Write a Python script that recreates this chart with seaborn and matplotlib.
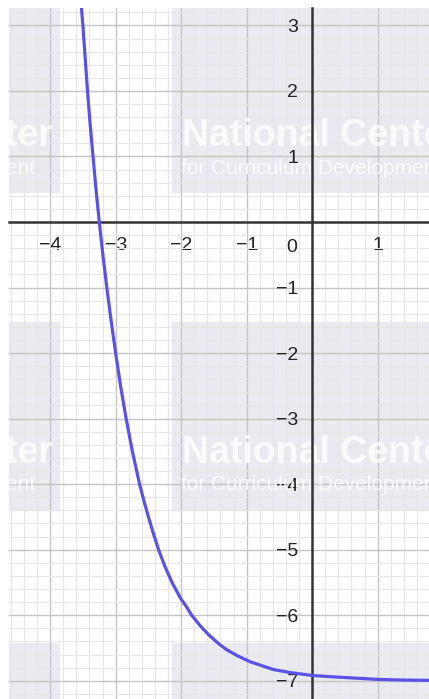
import matplotlib
matplotlib.use('Agg')
import matplotlib.pyplot as plt
import seaborn as sns
from matplotlib.ticker import MultipleLocator
from matplotlib.patches import Rectangle

# values (x, y)
curve_x = [-3.525, -3.50, -3.465, -3.43, -3.39, -3.345, -3.30, -3.25, -3.195, -3.135,
           -3.07, -3.00, -2.925, -2.84, -2.745, -2.635, -2.57, -2.50, -2.425, -2.345,
           -2.25, -2.14, -2.005, -1.92, -1.84, -1.72, -1.58, -1.41, -1.30, -1.14,
           -0.95, -0.80, -0.59, -0.34, 0.00, 0.30, 0.65, 1.00, 1.40, 1.80]
curve_y = [3.30, 3.00, 2.50, 2.00, 1.50, 1.00, 0.50, 0.00, -0.50, -1.00,
           -1.50, -2.00, -2.50, -3.00, -3.50, -4.00, -4.25, -4.50, -4.75, -5.00,
           -5.25, -5.50, -5.75, -5.87, -6.00, -6.15, -6.30, -6.45, -6.53, -6.62,
           -6.71, -6.76, -6.83, -6.875, -6.92, -6.94, -6.96, -6.98, -6.99, -6.995]

x_ticks = [-4, -3, -2, -1, 1]
x_labels = ['\u22124', '\u22123', '\u22122', '\u22121', '1']
y_ticks = [3, 2, 1, -1, -2, -3, -4, -5, -6, -7]
y_labels = ['3', '2', '1', '\u22121', '\u22122', '\u22123', '\u22124', '\u22125', '\u22126', '\u22127']

x_range = (-4.628, 1.783)
y_range = (-7.279, 3.266)

sns.set_theme(style='white')
plt.rcParams['font.family'] = ['Liberation Sans', 'DejaVu Sans']

W, H = 429, 699
fig = plt.figure(figsize=(W / 100, H / 100), dpi=100)
ax = fig.add_axes([9 / W, 0, 420 / W, 691 / H])
ax.set_xlim(*x_range)
ax.set_ylim(*y_range)
ax.set_axisbelow(True)

# faint watermark tiles (pixel boxes, y from top)
def px_box(x0, y0, x1, y1):
    return Rectangle((x0 / W, 1 - y1 / H), (x1 - x0) / W, (y1 - y0) / H,
                     transform=fig.transFigure, facecolor='#d8dbe4', edgecolor='none',
                     alpha=0.55, zorder=0.2)

for top in [5, 322, 643]:
    for left in [-234, 172]:
        ax.add_patch(px_box(left, top, left + 294, top + 188))
        ax.text((left + 10) / W, 1 - (top + 131) / H, 'National Center',
                transform=fig.transFigure, fontsize=27, fontweight='bold',
                color='white', alpha=0.8, ha='left', va='center', zorder=3)
        ax.text((left + 9) / W, 1 - (top + 163) / H, 'for Curriculum Development',
                transform=fig.transFigure, fontsize=15, color='white', alpha=0.8,
                ha='left', va='center', zorder=3)

# grid
ax.xaxis.set_major_locator(MultipleLocator(1))
ax.yaxis.set_major_locator(MultipleLocator(1))
ax.xaxis.set_minor_locator(MultipleLocator(0.2))
ax.yaxis.set_minor_locator(MultipleLocator(0.2))
ax.grid(which='major', color='#c4c4c4', linewidth=1.0)
ax.grid(which='minor', color='#e6e6e6', linewidth=0.8)

sns.lineplot(x=curve_x, y=curve_y, color='#5a52e6', linewidth=2.3, ax=ax,
             sort=False, estimator=None, zorder=4)

# axes through origin
for side in ['top', 'right']:
    ax.spines[side].set_visible(False)
ax.spines['left'].set_position('zero')
ax.spines['bottom'].set_position('zero')
for side in ['left', 'bottom']:
    ax.spines[side].set_color('#333333')
    ax.spines[side].set_linewidth(1.8)
    ax.spines[side].set_zorder(3.5)

ax.set_xticks(x_ticks)
ax.set_xticklabels(x_labels)
ax.set_yticks(y_ticks)
ax.set_yticklabels(y_labels)
ax.tick_params(which='both', length=0, labelsize=14, labelcolor='#222222')
ax.tick_params(axis='x', pad=11)
ax.tick_params(axis='y', pad=10)
ax.annotate('0', xy=(0, 0), xytext=(-15, -18.5), textcoords='offset points',
            ha='center', va='center', fontsize=14, color='#222222')

fig.savefig('out.png', dpi=100, facecolor='white')
